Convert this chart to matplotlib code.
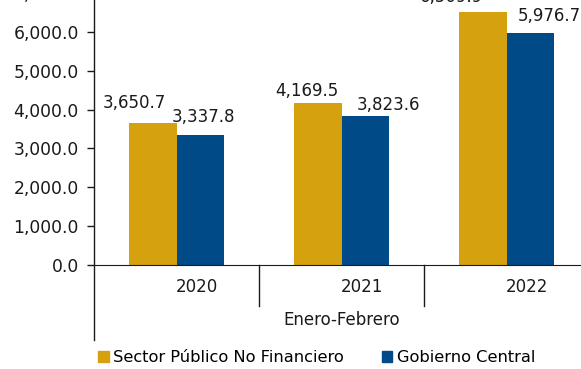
import matplotlib
matplotlib.use("Agg")
import matplotlib.pyplot as plt
from matplotlib.patches import Patch

categories = ["2020", "2021", "2022"]
spnf = [3650.7, 4169.5, 6509.9]
gc = [3337.8, 3823.6, 5976.7]
series_names = ["Sector Público No Financiero", "Gobierno Central"]
group_label = "Enero-Febrero"
yticks = [0, 1000, 2000, 3000, 4000, 5000, 6000, 7000]

# label centre offsets (pixels) from bar top-centre, mimicking manual placement
spnf_off = [(-18, 20), (-11, 12), (-31, 15)]
gc_off = [(3, 18), (23, 11), (19, 17)]

gold = "#D5A10F"
blue = "#004B87"

plt.rcParams["font.family"] = ["DejaVu Sans"]
W, H = 581, 369
PX = 0.72  # points per pixel at dpi 100
fig = plt.figure(figsize=(W / 100, H / 100), dpi=100)
scale = 0.03885  # px per unit
axh = 7000 * scale
ax = fig.add_axes([94 / W, 1 - 265 / H, 495 / W, axh / H])

bw = 0.29
xs = [i + 0.5 for i in range(len(categories))]
ax.bar([x - bw / 2 for x in xs], spnf, width=bw, color=gold)
ax.bar([x + bw / 2 for x in xs], gc, width=bw, color=blue)

txtc = "#1a1a1a"
for x, v, off in zip(xs, spnf, spnf_off):
    ax.annotate(f"{v:,.1f}", (x - bw / 2, v), xytext=(off[0] * PX, off[1] * PX),
                textcoords="offset points", ha="center", va="center", fontsize=12,
                color=txtc, annotation_clip=False)
for x, v, off in zip(xs, gc, gc_off):
    ax.annotate(f"{v:,.1f}", (x + bw / 2, v), xytext=(off[0] * PX, off[1] * PX),
                textcoords="offset points", ha="center", va="center", fontsize=12,
                color=txtc, annotation_clip=False)

ax.set_xlim(0, 3)
ax.set_ylim(0, 7000)
ax.set_yticks(yticks)
ax.set_yticklabels([f"{t:,.1f}" for t in yticks], fontsize=12.3, color=txtc)
ax.tick_params(axis="y", length=5, width=1, pad=6, color=txtc)
ax.set_xticks([])
for s in ["top", "right", "left"]:
    ax.spines[s].set_visible(False)
ax.spines["bottom"].set_color(txtc)

ax.plot([0, 0], [-(340 - 265) / axh, 1.05], transform=ax.get_xaxis_transform(),
        color=txtc, lw=1, clip_on=False)
for i in [1, 2]:
    ax.plot([i, i], [-(306 - 265) / axh, 0], transform=ax.get_xaxis_transform(),
            color=txtc, lw=1, clip_on=False)

for x, c in zip(xs, categories):
    ax.annotate(c, (x, 0), xycoords=("data", "axes fraction"), xytext=(20 * PX, -(287 - 265) * PX),
                textcoords="offset points", ha="center", va="center", fontsize=12, color=txtc,
                annotation_clip=False)
ax.annotate(group_label, (1.5, 0), xycoords=("data", "axes fraction"),
            xytext=(0, -(320 - 265) * PX), textcoords="offset points", ha="center",
            va="center", fontsize=12, color=txtc, annotation_clip=False)

handles = [Patch(color=gold), Patch(color=blue)]
fig.legend(handles, series_names, loc="center", bbox_to_anchor=(0.545, 1 - 358 / H), ncol=2,
           frameon=False, fontsize=11.7, handlelength=0.65, handleheight=0.65, handletextpad=0.3,
           columnspacing=2.3)

fig.savefig("out.png", dpi=100)
